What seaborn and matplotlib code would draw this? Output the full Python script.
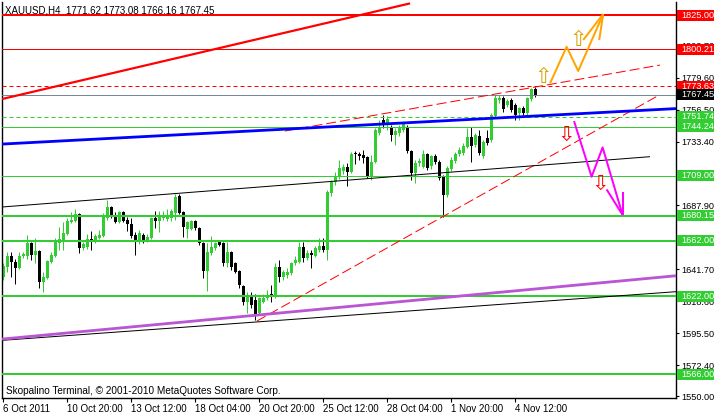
import numpy as np
import matplotlib
matplotlib.use("Agg")
import matplotlib.pyplot as plt
import seaborn as sns
from matplotlib.patches import Rectangle
from matplotlib.transforms import blended_transform_factory

sns.set_style("white")
plt.rcParams["font.family"] = ["Liberation Sans", "DejaVu Sans"]

# ---------------- data ----------------
symbol = "XAUUSD,H4"
opens = [1636.0, 1643.2, 1651.1, 1646.8, 1642.5, 1651.1, 1651.1, 1660.5, 1651.8, 1654.7,
         1632.4, 1635.2, 1646.8, 1651.1, 1660.5, 1661.2, 1667.0, 1675.7, 1676.4, 1681.4,
         1656.9, 1657.6, 1663.4, 1661.2, 1664.1, 1665.5, 1678.5, 1686.5, 1680.7, 1675.7,
         1682.9, 1677.1, 1674.2, 1666.3, 1662.7, 1666.3, 1662.7, 1664.1, 1678.5, 1676.4,
         1678.5, 1677.8, 1678.5, 1682.1, 1694.4, 1682.9, 1670.6, 1670.6, 1676.4, 1671.3,
         1660.5, 1640.3, 1653.3, 1656.9, 1661.2, 1660.5, 1646.1, 1654.0, 1646.1, 1640.3,
         1629.5, 1617.9, 1621.5, 1619.4, 1610.0, 1617.9, 1620.8, 1623.7, 1621.5, 1643.2,
         1636.0, 1637.4, 1638.9, 1646.1, 1646.8, 1657.6, 1649.7, 1653.3, 1651.1, 1655.4,
         1658.3, 1655.4, 1696.6, 1704.5, 1708.1, 1712.4, 1715.3, 1711.7, 1725.4, 1724.7,
         1724.0, 1722.5, 1708.1, 1718.9, 1739.9, 1749.2, 1745.6, 1744.2, 1738.4, 1739.9,
         1742.0, 1744.2, 1726.9, 1711.0, 1718.2, 1715.3, 1724.7, 1716.1, 1723.3, 1718.9,
         1708.1, 1695.1, 1713.9, 1719.7, 1724.7, 1725.4, 1729.8, 1737.0, 1731.2, 1737.7,
         1723.3, 1736.3, 1734.8, 1752.1, 1763.7, 1765.1, 1760.1, 1763.7, 1760.1, 1754.3,
         1757.9, 1754.3, 1764.4, 1771.62]
highs = [1646.1, 1654.0, 1654.0, 1649.0, 1654.0, 1654.0, 1666.3, 1661.2, 1664.1, 1655.4,
         1639.6, 1648.2, 1654.0, 1664.1, 1672.0, 1675.7, 1678.5, 1682.9, 1685.0, 1682.1,
         1661.2, 1667.0, 1669.2, 1667.0, 1669.9, 1682.1, 1691.5, 1687.2, 1682.9, 1683.6,
         1683.6, 1679.3, 1678.5, 1668.4, 1669.9, 1667.7, 1667.0, 1679.3, 1683.6, 1683.6,
         1683.6, 1685.0, 1685.0, 1695.8, 1695.8, 1683.6, 1676.4, 1677.1, 1677.1, 1672.0,
         1661.2, 1660.5, 1665.5, 1661.2, 1662.7, 1661.2, 1661.2, 1654.7, 1646.8, 1641.0,
         1630.2, 1625.1, 1625.1, 1623.7, 1621.5, 1623.7, 1626.6, 1630.2, 1646.1, 1648.2,
         1641.0, 1642.5, 1646.8, 1651.1, 1661.2, 1661.2, 1655.4, 1655.4, 1658.3, 1664.1,
         1664.1, 1698.7, 1705.9, 1711.7, 1720.4, 1717.5, 1718.2, 1726.2, 1726.9, 1726.2,
         1727.6, 1723.3, 1724.0, 1743.5, 1749.2, 1752.8, 1752.1, 1745.6, 1743.5, 1745.6,
         1747.8, 1745.6, 1727.6, 1720.4, 1721.8, 1727.6, 1725.4, 1724.0, 1724.7, 1720.4,
         1709.6, 1716.1, 1722.5, 1726.2, 1729.8, 1732.6, 1743.5, 1744.2, 1739.9, 1742.0,
         1734.8, 1742.0, 1754.3, 1767.3, 1767.3, 1766.6, 1764.4, 1765.1, 1761.5, 1758.6,
         1759.4, 1765.8, 1772.3, 1773.08]
lows = [1633.8, 1639.6, 1636.0, 1630.9, 1641.7, 1649.7, 1649.0, 1648.2, 1646.1, 1628.0,
        1625.1, 1634.5, 1646.1, 1650.4, 1655.4, 1655.4, 1666.3, 1674.9, 1675.7, 1653.3,
        1655.4, 1656.2, 1655.4, 1660.5, 1663.4, 1664.8, 1677.1, 1678.5, 1674.9, 1674.9,
        1675.7, 1669.2, 1664.1, 1651.8, 1659.8, 1660.5, 1661.2, 1663.4, 1671.3, 1668.4,
        1677.1, 1676.4, 1676.4, 1677.1, 1681.4, 1664.8, 1664.1, 1669.9, 1669.9, 1659.0,
        1635.2, 1625.9, 1651.8, 1655.4, 1658.3, 1643.9, 1643.2, 1641.0, 1638.9, 1628.0,
        1615.8, 1610.0, 1613.6, 1604.9, 1608.6, 1617.2, 1619.4, 1617.9, 1620.8, 1632.4,
        1633.8, 1635.2, 1637.4, 1644.6, 1646.1, 1646.8, 1648.2, 1642.5, 1650.4, 1654.0,
        1654.0, 1648.2, 1694.4, 1702.3, 1706.7, 1710.3, 1701.6, 1711.0, 1717.5, 1720.4,
        1718.2, 1707.4, 1705.9, 1718.2, 1738.4, 1743.5, 1742.0, 1734.1, 1731.2, 1737.7,
        1740.6, 1725.4, 1705.9, 1703.8, 1716.1, 1714.6, 1713.2, 1713.9, 1717.5, 1705.9,
        1679.3, 1693.7, 1712.4, 1718.2, 1723.3, 1724.0, 1729.0, 1718.9, 1729.8, 1724.0,
        1721.8, 1731.2, 1733.4, 1750.7, 1761.5, 1755.0, 1758.6, 1755.0, 1749.2, 1749.2,
        1752.8, 1752.8, 1763.0, 1766.16]
closes = [1643.9, 1651.1, 1646.8, 1642.5, 1651.1, 1652.6, 1660.5, 1651.8, 1654.7, 1632.4,
          1636.0, 1647.5, 1651.8, 1661.2, 1663.4, 1667.7, 1676.4, 1677.1, 1681.4, 1656.9,
          1659.8, 1663.4, 1662.7, 1665.5, 1666.3, 1679.3, 1686.5, 1680.7, 1675.7, 1682.9,
          1676.4, 1674.2, 1665.5, 1662.7, 1667.7, 1661.2, 1664.8, 1678.5, 1676.4, 1679.3,
          1680.7, 1680.0, 1683.6, 1693.7, 1682.1, 1672.0, 1675.7, 1676.4, 1671.3, 1660.5,
          1640.3, 1654.0, 1657.6, 1660.5, 1659.0, 1646.1, 1654.0, 1643.2, 1639.6, 1630.2,
          1617.9, 1621.5, 1615.8, 1608.6, 1620.8, 1620.8, 1622.3, 1621.5, 1643.2, 1636.0,
          1639.6, 1639.6, 1646.1, 1648.2, 1657.6, 1649.7, 1653.3, 1651.8, 1656.9, 1658.3,
          1655.4, 1697.3, 1704.5, 1708.1, 1714.6, 1715.3, 1711.7, 1724.7, 1724.7, 1723.3,
          1721.8, 1708.1, 1718.9, 1742.0, 1744.2, 1745.6, 1750.0, 1738.4, 1741.3, 1743.5,
          1746.4, 1726.9, 1711.0, 1718.2, 1719.7, 1724.7, 1714.6, 1723.3, 1718.9, 1707.4,
          1695.1, 1714.6, 1720.4, 1724.7, 1727.6, 1730.5, 1737.0, 1730.5, 1738.4, 1725.4,
          1733.4, 1732.6, 1752.8, 1765.1, 1765.1, 1757.2, 1763.0, 1756.5, 1752.8, 1757.9,
          1754.3, 1765.1, 1771.6, 1767.45]

time_tick_bars = [0, 16, 32, 48, 64, 80, 96, 112, 128]
time_tick_labels = ["6 Oct 2011", "10 Oct 20:00", "13 Oct 12:00", "18 Oct 04:00",
                    "20 Oct 20:00", "25 Oct 12:00", "28 Oct 04:00", "1 Nov 20:00", "4 Nov 12:00"]
price_ticks = [1550.00, 1572.40, 1595.50, 1618.60, 1641.70, 1664.80, 1687.90,
               1733.40, 1756.50, 1779.60, 1802.70]

# horizontal levels: price, colour, style, width(px)
level_prices = [1825.00, 1800.21, 1773.63, 1751.74, 1744.24, 1709.00, 1680.15, 1662.00, 1622.00, 1566.00]
level_colors = ["red", "red", "red", "limegreen", "limegreen", "limegreen",
                "limegreen", "limegreen", "limegreen", "limegreen"]
level_dashed = [False, False, True, True, False, False, False, False, False, False]
level_width = [2, 1, 1, 1, 1, 1, 2, 2, 2, 2]
bid_price = 1767.45

# trend lines (bar index, price)
red_trend_x, red_trend_y = [-0.33, 101.7], [1764.4, 1833.4]
red_dash_upper_x, red_dash_upper_y = [70.4, 164.2], [1741.3, 1788.9]
red_dash_lower_x, red_dash_lower_y = [63.4, 163.6], [1604.2, 1766.6]
blue_trend_x, blue_trend_y = [-0.33, 168.2], [1731.9, 1757.5]
black_mid_x, black_mid_y = [-0.33, 161.7], [1686.5, 1722.8]
black_low_x, black_low_y = [-0.33, 168.2], [1590.3, 1625.4]
purple_x, purple_y = [-0.33, 168.2], [1591.2, 1636.9]

# projected paths
orange_path_x = [136.7, 140.85, 143.75, 150.0]
orange_path_y = [1775.7, 1802.1, 1784.6, 1825.7]
orange_barbs_x = [[150.0, 145.0], [150.0, 149.0]]
orange_barbs_y = [[1825.7, 1807.0], [1825.7, 1807.0]]
magenta_path_x = [142.7, 147.1, 149.85, 154.85]
magenta_path_y = [1748.5, 1708.3, 1729.5, 1680.7]
magenta_barbs_x = [[154.85, 154.85], [154.85, 150.85]]
magenta_barbs_y = [[1680.7, 1697.5], [1680.7, 1699.2]]

up_arrow_x, up_arrow_y = [134.9, 143.8], [1780.5, 1807.0]
down_arrow_x, down_arrow_y = [140.7, 149.35], [1738.4, 1703.1]

copyright_text = "Skopalino Terminal, \u00a9 2001-2010 MetaQuotes Software Corp."

# ---------------- figure ----------------
W, H = 714, 416
fig = plt.figure(figsize=(W / 100, H / 100), dpi=100)
fig.patch.set_facecolor("white")
ax = fig.add_axes([2 / W, 18 / H, 674 / W, 396 / H])
ax.set_facecolor("white")
ymin, ymax = 1548.7, 1834.4
ax.set_xlim(-0.33, 168.2)
ax.set_ylim(ymin, ymax)
pp = (ymax - ymin) / 396.0  # price per pixel
LW = 0.72  # one pixel in points
GREEN = "#32CD32"

o = np.array(opens); h = np.array(highs); l = np.array(lows); c = np.array(closes)
x = np.arange(len(o))
up = c >= o
ax.vlines(x[up], l[up], h[up], color=GREEN, lw=LW, zorder=2)
ax.vlines(x[~up], l[~up], h[~up], color="black", lw=LW, zorder=2)
bottom = np.minimum(o, c)
height = np.maximum(np.abs(c - o), pp)
ax.bar(x[up], height[up], bottom=bottom[up], width=0.8, color=GREEN, lw=0, zorder=2)
ax.bar(x[~up], height[~up], bottom=bottom[~up], width=0.8, color="black", lw=0, zorder=2)

# horizontal levels
for p, col, dsh, w in zip(level_prices, level_colors, level_dashed, level_width):
    ln = ax.axhline(p, color=GREEN if col == "limegreen" else col, lw=w * LW, zorder=3)
    if dsh:
        ln.set_dashes((4, 3))
ax.axhline(bid_price, color="#778899", lw=LW, zorder=3)

def sline(xs, ys, color, w, dashes=None):
    sns.lineplot(x=xs, y=ys, ax=ax, color=color, lw=w * LW, sort=False, estimator=None,
                 zorder=4, legend=False)
    ln = ax.lines[-1]
    ln.set_solid_capstyle("butt")
    if dashes:
        ln.set_dashes(dashes)

sline(red_trend_x, red_trend_y, "red", 2.2)
sline(red_dash_upper_x, red_dash_upper_y, "red", 1, (10, 4))
sline(red_dash_lower_x, red_dash_lower_y, "red", 1, (10, 4))
sline(blue_trend_x, blue_trend_y, "blue", 2.8)
sline(black_mid_x, black_mid_y, "black", 1)
sline(black_low_x, black_low_y, "black", 1)
sline(purple_x, purple_y, "#BA55D3", 2.8)

sline(orange_path_x, orange_path_y, "orange", 2)
for bx, by in zip(orange_barbs_x, orange_barbs_y):
    sline(bx, by, "orange", 2)
sline(magenta_path_x, magenta_path_y, "magenta", 2)
for bx, by in zip(magenta_barbs_x, magenta_barbs_y):
    sline(bx, by, "magenta", 2)

for ax_, ay_ in zip(up_arrow_x, up_arrow_y):
    ax.text(ax_, ay_, "\u21e7", color="#D9A400", fontsize=15, ha="center", va="center",
            family=["DejaVu Sans"], zorder=6)
for ax_, ay_ in zip(down_arrow_x, down_arrow_y):
    ax.text(ax_, ay_, "\u21e9", color="red", fontsize=15, ha="center", va="center",
            family=["DejaVu Sans"], zorder=6)

# axes styling
for s in ["left", "right", "bottom"]:
    ax.spines[s].set_visible(True)
    ax.spines[s].set_color("black")
    ax.spines[s].set_linewidth(1.0)
ax.spines["top"].set_visible(False)
ax.yaxis.tick_right()
ax.set_yticks(price_ticks)
ax.set_yticklabels([f"{v:.2f}" for v in price_ticks])
ax.tick_params(axis="y", direction="out", length=2.5, width=0.8, pad=1.5,
               labelsize=6.6, colors="black", left=False, right=True)
ax.set_xticks(time_tick_bars)
ax.set_xticklabels(time_tick_labels)
for t in ax.get_xticklabels():
    t.set_ha("left")
ax.tick_params(axis="x", direction="out", length=3, width=0.8, pad=1,
               labelsize=7, colors="black", bottom=True)
ax.grid(False)

# price boxes on the scale
trans = blended_transform_factory(ax.transAxes, ax.transData)
box_items = list(zip(level_prices, level_colors)) + [(bid_price, "black")]
for p, col in box_items:
    fc = GREEN if col == "limegreen" else col
    ax.add_patch(Rectangle((1.0015, p - 5.5 * pp), 0.06, 11 * pp, transform=trans,
                           facecolor=fc, edgecolor="none", clip_on=False, zorder=7))
    ax.text(1.0 + 5 / 674, p, f"{p:.2f}", transform=trans, color="white", fontsize=6.6,
            ha="left", va="center", clip_on=False, zorder=8)

# texts
ax.text(3 / 674, 1 - 8 / 396, f"{symbol}  {opens[-1]:.2f} {highs[-1]:.2f} {lows[-1]:.2f} {closes[-1]:.2f}",
        transform=ax.transAxes, fontsize=7, ha="left", va="center", color="black", zorder=9)
ax.text(4 / 674, 7 / 396, copyright_text, transform=ax.transAxes, fontsize=7.2,
        ha="left", va="center", color="black", zorder=9)

fig.savefig("out.png", dpi=100)
